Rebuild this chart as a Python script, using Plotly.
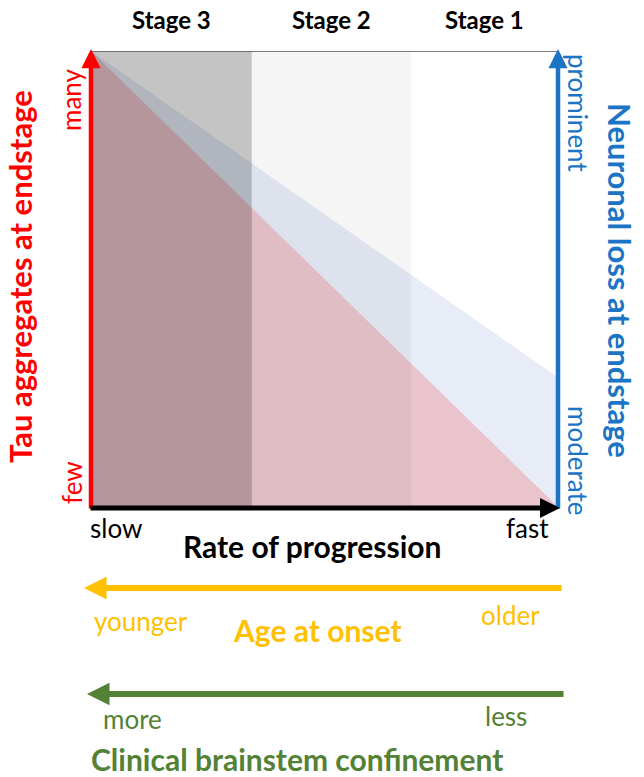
import plotly.graph_objects as go

# ---- data (conceptual diagram, normalised 0..1) ----
stages = ["Stage 3", "Stage 2", "Stage 1"]
stage_bounds = [0.0, 0.345, 0.687, 1.0]
stage_shade = [0.23, 0.04, 0.0]          # darkness of each stage band
rate_x = [0.0, 1.0]                       # slow -> fast
tau_y = [1.0, 0.0]                        # tau aggregates at endstage (many -> few)
loss_y = [1.0, 0.284]                     # neuronal loss at endstage (prominent -> moderate)

FONT = "Lato"
RED = "#FF0000"
BLUE = "#1B75C4"
YELLOW = "#FFC000"
GREEN = "#538135"

W, H = 644, 777
L, R, T, B = 91, 557, 51, 506    # plot area in pixels


def px(x):
    return (x - L) / (R - L)


def py(y):
    return (B - y) / (B - T)


fig = go.Figure()

# neuronal loss region (below its line)
fig.add_trace(go.Scatter(
    x=rate_x + rate_x[::-1], y=loss_y + [0.0, 0.0],
    fill="toself", mode="none", fillcolor="rgb(231,236,246)",
    hoverinfo="skip", showlegend=False))
# tau region (below its line)
fig.add_trace(go.Scatter(
    x=rate_x + [rate_x[0]], y=tau_y + [0.0],
    fill="toself", mode="none", fillcolor="rgb(234,196,204)",
    hoverinfo="skip", showlegend=False))

shapes = []
for i, name in enumerate(stages):
    if stage_shade[i] > 0:
        shapes.append(dict(type="rect", xref="x", yref="y",
                           x0=stage_bounds[i], x1=stage_bounds[i + 1], y0=0, y1=1,
                           fillcolor=f"rgba(0,0,0,{stage_shade[i]})", line_width=0,
                           layer="above"))
# top border
shapes.append(dict(type="line", xref="x", yref="y", x0=0, x1=1, y0=1, y1=1,
                   line=dict(color="#555555", width=1.5), layer="above"))

ann = []


def arrow(x_tip, y_tip, x_tail, y_tail, color, width, size):
    ann.append(dict(xref="paper", yref="paper", x=px(x_tip), y=py(y_tip),
                    ax=x_tail - x_tip, ay=y_tail - y_tip, axref="pixel", ayref="pixel",
                    text="", showarrow=True, arrowhead=2, arrowsize=size,
                    arrowwidth=width, arrowcolor=color))


def label(text, x, y, color, size, bold=False, angle=0):
    ann.append(dict(xref="paper", yref="paper", x=px(x), y=py(y),
                    text=f"<b>{text}</b>" if bold else text, showarrow=False,
                    textangle=angle, xanchor="center", yanchor="middle", borderpad=0,
                    font=dict(family=FONT, size=size, color=color)))


# axis arrows
arrow(91, 49, 91, 510, RED, 4.5, 0.85)
arrow(558, 49, 558, 510, BLUE, 4.5, 0.85)
arrow(560, 508, 89, 508, "black", 5, 0.8)
arrow(84, 588, 563, 588, YELLOW, 6, 0.75)
arrow(87, 694, 565, 694, GREEN, 6, 0.75)

# stage labels
for i, name in enumerate(stages):
    xm = (stage_bounds[i] + stage_bounds[i + 1]) / 2
    ann.append(dict(xref="x", yref="paper", x=xm, y=py(19), text=f"<b>{name}</b>",
                    showarrow=False, xanchor="center", yanchor="middle", borderpad=0,
                    font=dict(family=FONT, size=24, color="black")))

# left axis
label("many", 71, 100, RED, 26, angle=-90)
label("few", 72, 483, RED, 26, angle=-90)
label("Tau aggregates at endstage", 20, 277, RED, 31, bold=True, angle=-90)
# right axis
label("prominent", 578, 113, BLUE, 26, angle=90)
label("moderate", 578, 460, BLUE, 26, angle=90)
label("Neuronal loss at endstage", 620, 280, BLUE, 31, bold=True, angle=90)
# bottom axis
label("slow", 116, 528, "black", 26)
label("fast", 527, 528, "black", 26)
label("Rate of progression", 312, 546, "black", 30, bold=True)
# age at onset
label("younger", 141, 621, YELLOW, 26)
label("older", 510, 615, YELLOW, 26)
label("Age at onset", 317, 630, YELLOW, 30, bold=True)
# brainstem confinement
label("more", 132, 719, GREEN, 26)
label("less", 506, 716, GREEN, 26)
label("Clinical brainstem confinement", 297, 759, GREEN, 30, bold=True)

fig.update_layout(
    width=W, height=H,
    margin=dict(l=L, r=W - R, t=T, b=H - B),
    paper_bgcolor="white", plot_bgcolor="white",
    xaxis=dict(range=[0, 1], visible=False, fixedrange=True),
    yaxis=dict(range=[0, 1], visible=False, fixedrange=True),
    shapes=shapes, annotations=ann, showlegend=False,
)

fig.write_html("out.html", config={"displayModeBar": False},
               post_script="document.body.style.margin='0px';")
